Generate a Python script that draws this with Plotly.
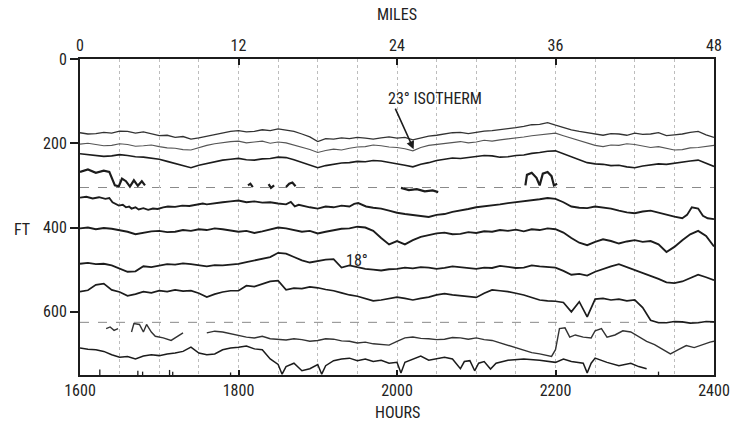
import plotly.graph_objects as go

# ---------------- data ----------------
HOUR_TICKS = [1600, 1800, 2000, 2200, 2400]
MILE_TICKS = [0, 12, 24, 36, 48]
DEPTH_TICKS = [0, 200, 400, 600]
REF_DEPTHS = [305, 625]          # dashed horizontal reference lines (ft)
GRID_HOURS = 50                  # spacing of dotted vertical grid (hours)

H10 = list(range(1600, 2401, 10))

iso1 = [175, 178, 177, 174, 176, 171, 172, 176, 173, 178, 182, 181, 186, 184, 190, 187, 183, 179, 176, 172,
        170, 173, 172, 168, 170, 166, 169, 172, 178, 185, 196, 189, 190, 187, 189, 186, 188, 190, 187, 185,
        188, 186, 192, 187, 183, 181, 178, 175, 174, 177, 174, 171, 170, 168, 166, 163, 160, 156, 155, 151,
        157, 163, 168, 172, 175, 179, 181, 177, 178, 181, 176, 179, 178, 175, 182, 180, 178, 174, 172, 180, 186]

iso2 = [202, 200, 203, 206, 205, 201, 203, 207, 206, 204, 208, 211, 212, 215, 216, 210, 205, 201, 198, 196,
        195, 199, 197, 195, 200, 197, 199, 204, 210, 215, 222, 217, 214, 216, 212, 209, 208, 204, 206, 209,
        210, 213, 218, 210, 205, 203, 200, 198, 196, 199, 197, 193, 195, 192, 190, 187, 185, 182, 180, 177,
        176, 182, 188, 194, 200, 205, 208, 204, 205, 201, 203, 207, 210, 208, 212, 216, 215, 211, 210, 207, 205]

iso3 = [225, 227, 228, 231, 230, 227, 229, 232, 233, 236, 238, 243, 248, 254, 258, 252, 248, 243, 240, 238,
        236, 239, 240, 237, 236, 233, 234, 239, 245, 251, 258, 253, 250, 247, 246, 243, 244, 241, 242, 245,
        248, 252, 256, 250, 246, 241, 238, 235, 236, 234, 232, 229, 230, 233, 232, 229, 228, 224, 222, 219,
        218, 225, 232, 240, 246, 249, 250, 253, 252, 256, 258, 254, 252, 249, 250, 247, 245, 242, 240, 248, 255]

iso4_h = [1600, 1610, 1620, 1630, 1637, 1641, 1644, 1649, 1653, 1658, 1663, 1668, 1673, 1678, 1682, None,
          1812, 1815, 1818, None, 1838, 1841, 1845, None, 1860, 1864, 1868, 1872, None,
          2005, 2015, 2025, 2035, 2045, 2052, None,
          2162, 2164, 2170, 2176, 2180, 2184, 2190, 2195, 2198, 2202]
iso4_v = [268, 262, 270, 265, 268, 286, 300, 302, 284, 290, 303, 288, 301, 290, 300, None,
          300, 296, 304, None, 297, 306, 300, None, 304, 296, 293, 302, None,
          306, 311, 309, 314, 312, 316, None,
          300, 275, 270, 282, 300, 272, 268, 278, 300, 296]

iso5_h = [1600, 1608, 1616, 1624, 1632, 1637, 1641, 1645, 1649, 1654, 1658, 1662, 1665, 1670, 1674, 1680,
          1686, 1692, 1698, 1705, 1711, 1720, 1729, 1738, 1748, 1755, 1760, 1770, 1780, 1790, 1800, 1810,
          1820, 1830, 1840, 1850, 1860, 1866, 1871, 1876, 1880, 1890, 1900, 1910, 1920, 1930, 1940, 1946,
          1951, 1956, 1961, 1970, 1980, 1990, 2000, 2010, 2020, 2030, 2040, 2050, 2060, 2070, 2080, 2090,
          2100, 2110, 2120, 2130, 2140, 2150, 2160, 2170, 2180, 2190, 2200, 2210, 2220, 2230, 2240, 2250,
          2260, 2270, 2280, 2290, 2300, 2310, 2320, 2330, 2340, 2350, 2360, 2366, 2372, 2380, 2386, 2392, 2400]
iso5_v = [329, 327, 331, 328, 332, 330, 340, 345, 348, 346, 352, 350, 355, 352, 357, 354,
          358, 355, 356, 352, 350, 351, 348, 349, 346, 343, 345, 342, 340, 338, 336, 340,
          338, 341, 340, 343, 345, 339, 350, 346, 348, 352, 355, 350, 352, 348, 350, 344,
          342, 347, 350, 353, 355, 360, 365, 368, 370, 373, 375, 370, 368, 363, 360, 356,
          352, 350, 348, 345, 342, 340, 338, 335, 333, 330, 332, 340, 350, 353, 354, 350,
          352, 355, 360, 364, 366, 362, 360, 365, 370, 374, 378, 370, 352, 355, 372, 378, 380]

iso6 = [402, 400, 404, 401, 403, 406, 410, 416, 412, 409, 408, 411, 410, 406, 408, 404, 406, 402, 404, 407,
        410, 408, 413, 409, 405, 400, 402, 406, 410, 408, 414, 410, 406, 403, 402, 398, 400, 408, 425, 440,
        432, 440, 430, 422, 418, 414, 412, 416, 415, 411, 413, 409, 410, 406, 408, 405, 409, 404, 406, 402,
        404, 412, 425, 436, 442, 434, 428, 432, 438, 433, 430, 434, 432, 440, 458, 446, 430, 416, 408, 420, 445]

iso7 = [486, 484, 487, 486, 490, 498, 505, 504, 492, 494, 490, 487, 488, 485, 487, 490, 492, 489, 490, 488,
        486, 482, 478, 474, 470, 460, 462, 470, 478, 483, 480, 476, 475, 495, 490, 494, 498, 500, 502, 499,
        498, 495, 497, 494, 495, 498, 496, 492, 494, 497, 498, 495, 496, 491, 493, 496, 495, 490, 492, 494,
        495, 503, 512, 510, 514, 505, 498, 492, 487, 494, 500, 508, 514, 522, 530, 532, 528, 520, 512, 518, 525]

iso8 = [552, 549, 536, 533, 548, 553, 562, 558, 552, 555, 550, 552, 548, 551, 550, 556, 565, 558, 553, 550,
        550, 538, 540, 534, 528, 526, 548, 544, 545, 541, 543, 547, 550, 555, 560, 563, 568, 574, 572, 568,
        565, 568, 572, 568, 565, 560, 557, 560, 562, 565, 566, 556, 548, 550, 552, 556, 560, 566, 572, 574,
        575, 578, 600, 576, 612, 570, 568, 572, 570, 574, 572, 590, 620, 626, 626, 623, 624, 627, 626, 623, 624]

iso9_h = [1633, 1638, 1643, 1648, None, 1665, 1668, 1675, 1680, 1684, 1690, 1695, 1705, 1715, 1722, 1730, None,
          1760, 1770, 1780, 1790, 1800, 1810, 1820, 1830, 1840, 1850, 1860, 1870, 1880, 1890, 1900, 1910,
          1920, 1930, 1940, 1950, 1960, 1970, 1980, 1990, 2000, 2010, 2020, 2030, 2040, 2050, 2060, 2070,
          2080, 2090, 2100, 2110, 2120, 2130, 2140, 2150, 2160, 2170, 2180, 2190, 2195, 2200, 2205, 2212,
          2218, 2225, 2235, 2245, 2250, 2258, 2265, 2275, 2285, 2295, 2305, 2315, 2325, 2335, 2345, 2355,
          2365, 2375, 2385, 2395, 2400]
iso9_v = [640, 636, 644, 640, None, 648, 628, 630, 648, 630, 648, 658, 662, 668, 660, 650, None,
          650, 646, 648, 652, 655, 660, 662, 658, 664, 666, 667, 664, 666, 670, 668, 664,
          665, 669, 670, 674, 672, 676, 678, 679, 670, 662, 660, 663, 664, 666, 665, 661,
          662, 665, 662, 666, 668, 674, 680, 686, 692, 697, 700, 704, 706, 690, 640, 638,
          660, 655, 660, 662, 645, 640, 660, 655, 645, 648, 660, 670, 678, 690, 700, 690,
          680, 685, 678, 672, 670]

iso10_h = [1600, 1610, 1620, 1630, 1640, 1650, 1660, 1670, 1680, 1690, 1700, 1710, 1720, 1730, 1740, 1750,
           1760, 1770, 1780, 1790, 1800, 1810, 1820, 1830, 1840, 1850, 1855, 1860, 1870, 1880, 1890, 1900,
           1905, 1910, 1920, 1930, 1940, 1950, 1960, 1970, 1980, 1990, 2000, 2005, 2010, 2020, 2030, 2040,
           2050, 2060, 2070, 2080, 2085, 2092, 2098, 2103, 2110, 2118, 2125, 2140, 2160, 2180, 2200, 2210,
           2220, 2235, 2240, 2245, 2250, 2265, 2280, 2295, 2305, 2315]
iso10_v = [686, 689, 690, 694, 702, 708, 706, 712, 705, 702, 704, 700, 698, 694, 684, 698,
           702, 700, 690, 686, 684, 681, 688, 690, 712, 725, 748, 730, 722, 740, 735, 725,
           748, 728, 716, 712, 710, 716, 712, 718, 715, 722, 720, 745, 720, 712, 705, 715,
           712, 708, 712, 735, 718, 716, 740, 722, 718, 736, 722, 715, 712, 715, 720, 712,
           718, 722, 745, 722, 710, 720, 728, 722, 730, 735]

bits_h = [1625, 1625, None, 1673, 1673, None, 1679, 1679, None, 1713, 1713, None, 1717, 1717, None,
          1790, 1790, None, 2330, 2330]
bits_v = [750, 737, None, 750, 740, None, 750, 742, None, 750, 738, None, 750, 742, None,
          750, 744, None, 750, 742]

# ---------------- figure ----------------
INK = "#1c1c1c"
FONT = "Liberation Sans Narrow, Roboto Condensed, DejaVu Sans Condensed, Liberation Sans, sans-serif"

fig = go.Figure()

def add(xs, ys, width=1.6, color=INK):
    fig.add_trace(go.Scatter(x=xs, y=ys, mode="lines", connectgaps=False,
                             line=dict(color=color, width=width, shape="linear"),
                             hoverinfo="skip", showlegend=False))

add(H10, iso1, 1.3, "#333333")
add(H10, iso2, 1.1, "#555555")
add(H10, iso3, 1.6)
add(iso4_h, iso4_v, 2.2)
add(iso5_h, iso5_v, 1.9)
add(H10, iso6, 1.9)
add(H10, iso7, 1.8)
add(H10, iso8, 1.7)
add(iso9_h, iso9_v, 1.4, "#333333")
add(iso10_h, iso10_v, 1.5)
add(bits_h, bits_v, 1.3)

# dummy trace on the top (miles) axis
fig.add_trace(go.Scatter(x=MILE_TICKS, y=[0] * len(MILE_TICKS), xaxis="x2", yaxis="y",
                         mode="markers", marker=dict(opacity=0), hoverinfo="skip", showlegend=False))

for d in REF_DEPTHS:
    fig.add_shape(type="line", xref="paper", x0=0, x1=1, yref="y", y0=d, y1=d,
                  line=dict(color="#8a8a8a", width=1, dash="dash"), layer="below")

tickfont = dict(family=FONT, size=16, color="#222222")

fig.update_layout(
    width=742, height=422,
    margin=dict(l=80, r=12, t=59, b=47),
    paper_bgcolor="white", plot_bgcolor="white",
    font=dict(family=FONT, size=16, color="#222222"),
    xaxis=dict(range=[1600, 2400], tickvals=HOUR_TICKS, ticks="inside", ticklen=5,
               tickcolor=INK, tickwidth=1.5, showline=True, linecolor=INK, linewidth=2,
               showgrid=True, gridcolor="#bdbdbd", griddash="dot", gridwidth=1,
               minor=dict(dtick=GRID_HOURS, showgrid=True, gridcolor="#bdbdbd",
                          griddash="dot", gridwidth=1),
               tickfont=tickfont, zeroline=False),
    xaxis2=dict(range=[0, 48], tickvals=MILE_TICKS, overlaying="x", side="top", anchor="y",
                ticks="inside", ticklen=6, tickcolor=INK, tickwidth=1.5,
                showline=True, linecolor=INK, linewidth=2, showgrid=False,
                tickfont=tickfont, zeroline=False),
    yaxis=dict(range=[750, 0], tickvals=DEPTH_TICKS, ticks="outside", ticklen=8,
               tickcolor=INK, tickwidth=1.5, showline=True, mirror=True, linecolor=INK,
               linewidth=2, showgrid=False, tickfont=tickfont, zeroline=False),
    annotations=[
        dict(text="MILES", xref="paper", yref="paper", x=0.5, y=1.14, showarrow=False,
             xanchor="center", yanchor="middle", font=dict(size=16)),
        dict(text="HOURS", xref="paper", yref="paper", x=0.5, y=-0.12, showarrow=False,
             xanchor="center", yanchor="middle", font=dict(size=16)),
        dict(text="FT", xref="paper", yref="paper", x=-0.092, y=0.459, showarrow=False,
             xanchor="center", yanchor="middle", font=dict(size=16)),
        dict(text="23° ISOTHERM", x=2048, y=93, xref="x", yref="y", showarrow=False,
             xanchor="center", yanchor="middle", font=dict(size=16)),
        dict(text="", x=2021, y=214, xref="x", yref="y", showarrow=True, ax=-19, ay=-42,
             arrowhead=2, arrowsize=1, arrowwidth=1.6, arrowcolor=INK),
        dict(text="18°", x=1950, y=479, xref="x", yref="y", showarrow=False,
             xanchor="center", yanchor="middle", font=dict(size=16)),
    ],
)

fig.write_html("out.html")
